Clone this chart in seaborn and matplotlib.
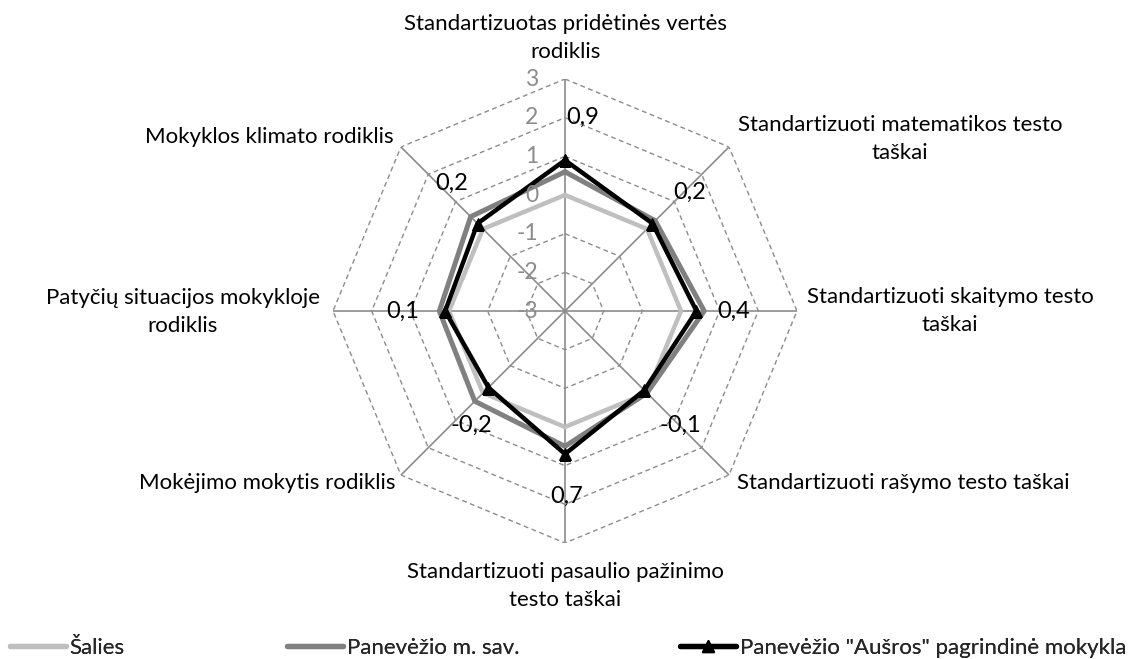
import numpy as np
import matplotlib
matplotlib.use("Agg")
import matplotlib.pyplot as plt
from matplotlib.lines import Line2D
import seaborn as sns

categories = [
    "Standartizuotas pridėtinės vertės\nrodiklis",
    "Standartizuoti matematikos testo\ntaškai",
    "Standartizuoti skaitymo testo\ntaškai",
    "Standartizuoti rašymo testo taškai",
    "Standartizuoti pasaulio pažinimo\ntesto taškai",
    "Mokėjimo mokytis rodiklis",
    "Patyčių situacijos mokykloje\nrodiklis",
    "Mokyklos klimato rodiklis",
]
salies = [0, 0, 0, 0, 0, 0, 0, 0]
panevezio = [0.6, 0.3, 0.6, 0.0, 0.5, 0.3, 0.25, 0.45]
ausros = [0.9, 0.2, 0.4, -0.1, 0.7, -0.2, 0.1, 0.2]
ausros_labels = ["0,9", "0,2", "0,4", "-0,1", "0,7", "-0,2", "0,1", "0,2"]
ring_values = [-3, -2, -1, 0, 1, 2, 3]
series_names = ["Šalies", "Panevėžio m. sav.", 'Panevėžio "Aušros" pagrindinė mokykla']

sns.set_theme(style="white")
plt.rcParams["font.family"] = ["Lato", "DejaVu Sans"]

W, H = 1133, 659
fig = plt.figure(figsize=(W / 100, H / 100), dpi=100)
cx, cy, R = 565, 311, 232
ax = fig.add_axes([(cx - R) / W, (H - cy - R) / H, 2 * R / W, 2 * R / H], projection="polar")
ax.set_theta_zero_location("N")
ax.set_theta_direction(-1)
ax.set_ylim(-3, 3)
ax.grid(False)
ax.spines["polar"].set_visible(False)
ax.set_xticks([])
ax.set_yticks([])
ax.patch.set_alpha(0)

n = len(categories)
theta = np.arange(n) * 2 * np.pi / n
theta_c = np.append(theta, 2 * np.pi)
gridc = "#8c8c8c"

# octagonal rings
for rv in ring_values[1:]:
    ax.plot(theta_c, [rv] * (n + 1), color=gridc, lw=1.0, ls=(0, (3.5, 2.5)), zorder=1)
# spokes
for t in theta:
    ax.plot([t, t], [-3, 3], color=gridc, lw=1.2, zorder=1)

def closed(v):
    return list(v) + [v[0]]

sns.lineplot(x=theta_c, y=closed(salies), ax=ax, sort=False, color="#bfbfbf", lw=3.2, zorder=3, legend=False)
sns.lineplot(x=theta_c, y=closed(panevezio), ax=ax, sort=False, color="#808080", lw=3.6, zorder=4, legend=False)
sns.lineplot(x=theta_c, y=closed(ausros), ax=ax, sort=False, color="black", lw=3.2, zorder=5,
             marker="^", markersize=9, markeredgecolor="black", legend=False)

# ring value labels
for rv in ring_values:
    ax.annotate(str(rv), xy=(0, rv), xytext=(-27, 0), textcoords="offset pixels",
                ha="right", va="center", fontsize=16.5, color="#8c8c8c", zorder=6)

# data labels
offsets = [(18, 43), (37, 31), (37, 0), (36, -35), (2, -42), (-17, -38), (-42, 0), (-26, 40)]
for t, v, lab, off in zip(theta, ausros, ausros_labels, offsets):
    ax.annotate(lab, xy=(t, v), xytext=off, textcoords="offset pixels",
                ha="center", va="center", fontsize=17, color="black", zorder=7)

# category labels (figure pixel positions)
cat_pos = [(566, 38), (900, 139), (950, 311), (903, 483),
           (565, 586), (267, 483), (183, 312), (269, 137)]
for lab, (x, y) in zip(categories, cat_pos):
    fig.text(x / W, 1 - y / H, lab, ha="center", va="center", fontsize=16, color="black",
             linespacing=1.5, multialignment="center")

# legends
handles = [
    Line2D([], [], color="#bfbfbf", lw=3.8, solid_capstyle="round"),
    Line2D([], [], color="#808080", lw=3.8, solid_capstyle="round"),
    Line2D([], [], color="black", lw=3.8, marker="^", markersize=9, solid_capstyle="round"),
]
leg_x = [10, 287, 680]
for h, name, x in zip(handles, series_names, leg_x):
    lg = fig.legend([h], [name], loc="center left", bbox_to_anchor=(x / W, 1 - 648 / H),
                    frameon=False, fontsize=16, handlelength=2.5, handletextpad=0.18,
                    borderaxespad=0, borderpad=0)
    fig.add_artist(lg)

fig.savefig("out.png", dpi=100)
